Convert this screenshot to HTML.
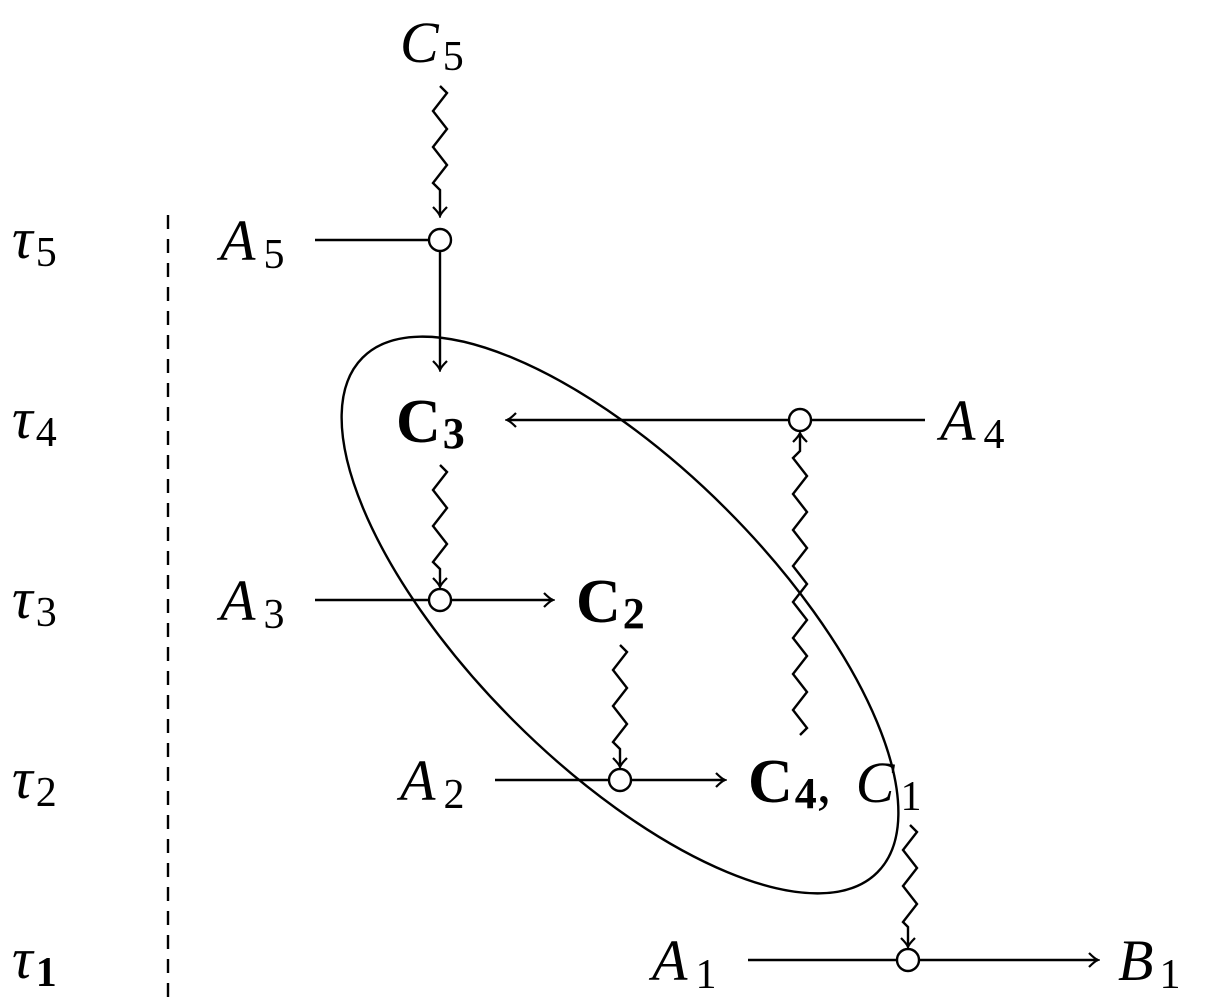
<!DOCTYPE html>
<html><head><meta charset="utf-8"><style>
html,body{margin:0;padding:0;background:#fff;}
svg{display:block;}
text{font-family:"Liberation Serif",serif;fill:#000;}
.i{font-style:italic;}
.b{font-weight:bold;}
</style></head><body>
<svg width="1216" height="1004" viewBox="0 0 1216 1004" xmlns="http://www.w3.org/2000/svg">
<defs>
<marker id="ar" viewBox="-10 -8 12 16" markerWidth="12" markerHeight="16" refX="0" refY="0" orient="auto" markerUnits="userSpaceOnUse">
<path d="M-9,-7 Q-3,-1 0,0 Q-3,1 -9,7" fill="none" stroke="#000" stroke-width="2.2"/>
</marker>
</defs>
<g stroke="#000" stroke-width="2.4" fill="none">
<line x1="168" y1="215" x2="168" y2="1000" stroke-dasharray="14,10"/>
<ellipse cx="620" cy="615" rx="364" ry="150" transform="rotate(45 620 615)"/>
<line x1="315" y1="240" x2="429" y2="240"/>
<circle cx="440" cy="240" r="11"/>
<polyline points="440,86 447,93 433,111 447,129 433,147 447,165 433,183 440,190 440,216" marker-end="url(#ar)"/>
<line x1="440" y1="251" x2="440" y2="370" marker-end="url(#ar)"/>
<line x1="925" y1="420" x2="811" y2="420"/>
<line x1="789" y1="420" x2="507" y2="420" marker-end="url(#ar)"/>
<circle cx="800" cy="420" r="11"/>
<polyline points="440,465 447,472 433,490 447,508 433,526 447,544 433,562 440,569 440,587" marker-end="url(#ar)"/>
<line x1="315" y1="600" x2="429" y2="600"/>
<line x1="451" y1="600" x2="553" y2="600" marker-end="url(#ar)"/>
<circle cx="440" cy="600" r="11"/>
<polyline points="620,645 627,652 613,670 627,688 613,706 627,724 613,742 620,749 620,767" marker-end="url(#ar)"/>
<polyline points="800,735 807,728 793,710 807,692 793,674 807,656 793,638 807,620 793,602 807,584 793,566 807,548 793,530 807,512 793,494 807,476 793,458 800,451 800,433" marker-end="url(#ar)"/>
<line x1="495" y1="780" x2="609" y2="780"/>
<line x1="631" y1="780" x2="725" y2="780" marker-end="url(#ar)"/>
<circle cx="620" cy="780" r="11"/>
<polyline points="910,825 917,832 903,850 917,868 903,886 917,904 903,922 908,927 908,947" marker-end="url(#ar)"/>
<line x1="748" y1="960" x2="897" y2="960"/>
<line x1="919" y1="960" x2="1098" y2="960" marker-end="url(#ar)"/>
<circle cx="908" cy="960" r="11"/>
</g>
<g font-size="58">
<text x="12" y="258" class="i">τ<tspan font-size="42" dx="3" dy="8" font-style="normal">5</tspan></text>
<text x="12" y="438" class="i">τ<tspan font-size="42" dx="3" dy="8" font-style="normal">4</tspan></text>
<text x="12" y="618" class="i">τ<tspan font-size="42" dx="3" dy="8" font-style="normal">3</tspan></text>
<text x="12" y="798" class="i">τ<tspan font-size="42" dx="3" dy="8" font-style="normal">2</tspan></text>
<text x="12" y="978" class="i">τ<tspan font-size="42" dx="3" dy="8" font-style="normal" font-weight="bold">1</tspan></text>

<text x="400" y="62" class="i">C<tspan font-size="42" dx="4" dy="8" font-style="normal">5</tspan></text>
<text x="220" y="260" class="i">A<tspan font-size="42" dx="8" dy="8" font-style="normal">5</tspan></text>
<text x="396" y="442" class="b" font-size="62">C<tspan font-size="44" dx="2" dy="6">3</tspan></text>
<text x="940" y="440" class="i">A<tspan font-size="42" dx="8" dy="8" font-style="normal">4</tspan></text>
<text x="220" y="620" class="i">A<tspan font-size="42" dx="8" dy="8" font-style="normal">3</tspan></text>
<text x="576" y="622" class="b" font-size="62">C<tspan font-size="44" dx="2" dy="6">2</tspan></text>
<text x="400" y="800" class="i">A<tspan font-size="42" dx="8" dy="8" font-style="normal">2</tspan></text>
<text x="748" y="802"><tspan font-weight="bold" font-size="62">C</tspan><tspan font-size="44" dx="2" dy="6" font-weight="bold">4</tspan><tspan dy="-6">, </tspan><tspan font-style="italic" dx="10">C</tspan><tspan font-size="42" dx="6" dy="8">1</tspan></text>
<text x="652" y="980" class="i">A<tspan font-size="42" dx="8" dy="8" font-style="normal">1</tspan></text>
<text x="1118" y="980" class="i">B<tspan font-size="42" dx="6" dy="8" font-style="normal">1</tspan></text>
</g>
</svg>
</body></html>
